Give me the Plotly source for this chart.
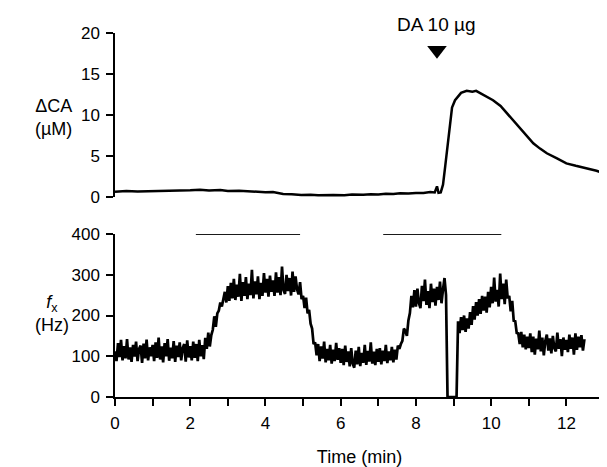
import plotly.graph_objects as go

# Top trace: change in catecholamine (uM) vs time (min)
t_ca = [0, 0.3, 0.6, 1, 1.3, 1.6, 2, 2.26, 2.5, 2.8, 3, 3.3, 3.6, 4, 4.2, 4.47, 4.7, 4.95, 5.2, 5.4,
        5.8, 6.1, 6.3, 6.6, 6.8, 7.0, 7.2, 7.4, 7.58, 7.8, 8.0, 8.2, 8.38,
        8.5, 8.56, 8.6, 8.66, 8.72, 8.78, 8.84, 8.9, 8.96, 9.04, 9.12, 9.2, 9.35, 9.5, 9.6, 9.7, 9.9,
        10.05, 10.25, 10.42, 10.6, 10.77, 10.95, 11.12, 11.3, 11.48, 11.75, 12.0, 12.25, 12.55,
        12.8, 13.0]
ca = [0.65, 0.72, 0.66, 0.7, 0.78, 0.72, 0.82, 0.88, 0.8, 0.84, 0.74, 0.76, 0.65, 0.58, 0.6, 0.37,
      0.34, 0.25, 0.28, 0.22,
      0.25, 0.2, 0.3, 0.26, 0.33, 0.3, 0.38, 0.35, 0.45, 0.42, 0.5, 0.48, 0.6,
      0.55, 1.3, 0.5, 0.55, 1.5, 3.8, 6.3, 9.0, 10.9, 11.8, 12.3, 12.7, 12.95, 12.85, 12.95, 12.7, 12.25,
      11.8, 11.1, 10.2, 9.3, 8.4, 7.4, 6.55, 5.9, 5.33, 4.7, 4.1, 3.8, 3.5,
      3.2, 2.9]

# Bottom trace: fx (Hz), sampled every 0.04 min from 0 to 12.48 min
dt_fx = 0.04
fx = [
    # 0 min
    112, 88, 132, 98, 140, 90, 125, 95, 142, 92, 122, 86, 128, 99, 136, 88, 118, 126, 84, 131, 95, 141, 90, 122, 100,
    # 1 min
    128, 88, 134, 96, 146, 92, 124, 85, 132, 100, 142, 89, 121, 95, 137, 86, 126, 98, 134, 90, 120, 130, 87, 139, 97,
    # 2 min
    125, 90, 136, 96, 130, 88, 140, 100, 127, 93, 145, 118, 158, 124, 152, 165, 198, 172, 205, 212, 232, 222, 240, 258, 232,
    # 3 min
    272, 236, 280, 242, 290, 238, 276, 246, 302, 236, 282, 248, 294, 240, 278, 250, 312, 242, 284, 252, 296, 240, 280, 248, 304,
    # 4 min
    256, 290, 246, 298, 258, 286, 248, 306, 256, 294, 250, 320, 262, 253, 300, 260, 292, 249, 308, 258, 296, 264, 252, 282, 240,
    # 5 min
    248, 218, 244, 205, 214, 180, 168, 130, 134, 102, 130, 88, 124, 94, 136, 85, 118, 90, 128, 82, 116, 88, 133, 91, 120,
    # 6 min
    84, 118, 78, 126, 86, 112, 75, 120, 82, 72, 114, 80, 123, 76, 108, 84, 128, 79, 113, 87, 134, 82, 111, 78, 118,
    # 7 min
    86, 120, 80, 114, 88, 128, 83, 112, 90, 123, 85, 116, 92, 126, 118, 130, 138, 168, 162, 150, 188, 206, 248, 220, 262,
    # 8 min
    222, 266, 230, 218, 273, 235, 288, 226, 260, 218, 278, 233, 266, 224, 270, 238, 283, 230, 264, 292, 250, 0, 0, 0, 0,
    # 9 min
    0, 0, 0, 186, 157, 196, 164, 200, 160, 193, 168, 208, 177, 223, 190, 233, 200, 240, 204, 248, 212, 246, 207, 258, 220,
    # 10 min
    270, 230, 293, 234, 263, 222, 303, 240, 278, 228, 288, 242, 248, 210, 236, 187, 186, 157, 156, 130, 160, 122, 153, 117, 148,
    # 11 min
    120, 156, 110, 148, 104, 143, 117, 163, 112, 146, 102, 138, 153, 114, 144, 107, 150, 120, 112, 158, 118, 142, 100, 146, 116,
    # 12 min
    140, 110, 153, 118, 146, 104, 156, 116, 148, 122, 152, 114, 142,
]
t_fx = [round(i * dt_fx, 2) for i in range(len(fx))]

# Stimulation bars (min)
bar_start = [2.15, 7.13]
bar_end = [4.92, 10.27]

# Drug marker
da_time = 8.56
da_label = "DA 10 µg"

font_family = "Liberation Sans, Arial, sans-serif"

fig = go.Figure()

fig.add_trace(
    go.Scatter(x=t_ca, y=ca, mode="lines", line=dict(color="black", width=2.5),
               xaxis="x2", yaxis="y2", showlegend=False)
)
fig.add_trace(
    go.Scatter(x=[da_time], y=[17.9], mode="markers",
               marker=dict(symbol="triangle-down", size=17, color="black"),
               xaxis="x2", yaxis="y2", showlegend=False, cliponaxis=False)
)
fig.add_trace(
    go.Scatter(x=t_fx, y=fx, mode="lines", line=dict(color="black", width=2.7),
               xaxis="x", yaxis="y", showlegend=False)
)
for s, e in zip(bar_start, bar_end):
    fig.add_trace(
        go.Scatter(x=[s, e], y=[400, 400], mode="lines",
                   line=dict(color="#1a1a1a", width=2),
                   xaxis="x", yaxis="y", showlegend=False, cliponaxis=False)
    )

fig.add_annotation(x=da_time, y=1.022, xref="x2", yref="paper", yanchor="middle", text=da_label,
                   showarrow=False, font=dict(size=19, color="black", family=font_family))
fig.add_annotation(x=-0.168, y=9.75, xref="paper", yref="y2", text="ΔCA<br>(µM)",
                   showarrow=False, font=dict(size=18, color="black", family=font_family))
fig.add_annotation(x=-0.168, y=206, xref="paper", yref="y", text="<i>f</i><sub>x</sub><br>(Hz)",
                   showarrow=False, font=dict(size=18, color="black", family=font_family))

axis_common = dict(
    showgrid=False, zeroline=False, showline=True, linecolor="black", linewidth=1.5,
    ticks="outside", ticklen=7, tickwidth=1.5, tickcolor="black",
    tickfont=dict(size=17, color="black", family=font_family),
)

fig.update_layout(
    width=607,
    height=467,
    margin=dict(l=107, r=11, t=25, b=78),
    plot_bgcolor="white",
    paper_bgcolor="white",
    xaxis=dict(
        domain=[0, 1], anchor="y", range=[0, 13], dtick=2, ticklabelstandoff=3,
        minor=dict(dtick=1, ticks="outside", ticklen=7, tickwidth=1.5, tickcolor="black"),
        title=dict(text="Time (min)", font=dict(size=18, color="black", family=font_family), standoff=18),
        **axis_common,
    ),
    yaxis=dict(domain=[0, 0.4478], anchor="x", range=[0, 400], dtick=100, ticklabelstandoff=3,
               **axis_common),
    xaxis2=dict(domain=[0, 1], anchor="y2", range=[0, 13], matches="x", visible=False),
    yaxis2=dict(domain=[0.5495, 1], anchor="x2", range=[0, 20], dtick=5, ticklabelstandoff=3,
                **axis_common),
)

fig.write_html("out.html")
